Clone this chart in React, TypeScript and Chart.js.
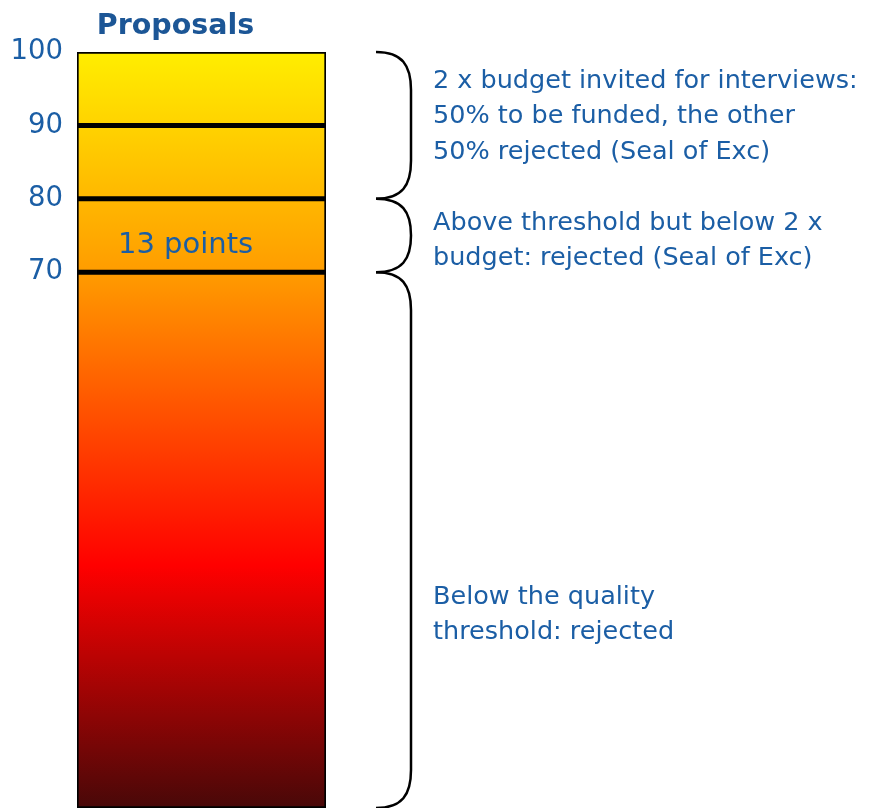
import React, { useEffect, useRef } from "react";
import { Chart, registerables } from "chart.js";

Chart.register(...registerables);

// ---- data ----
const categories = ["Proposals"];
const barTop = [100];
const barBottom = [-3];
const tickValues = [100, 90, 80, 70];
const thresholdValues = [90, 80, 70];
const gradientValues = [100, 70, 30, -3];
const gradientColors = ["#FFEE00", "#FF9C00", "#FF0000", "#480808"];
const bracketStarts = [100, 80, 70];
const bracketEnds = [80, 70, -3];
const annotationLines = [
  ["2 x budget invited for interviews:", "50% to be funded, the other", "50% rejected (Seal of Exc)"],
  ["Above threshold but below 2 x", "budget: rejected (Seal of Exc)"],
  ["Below the quality", "threshold: rejected"],
];
const annotationFirstLineValues = [96.0, 76.7, 25.7];
const insideLabel = "13 points";
const insideLabelValue = 73.6;

const BLUE = "#1B5EA5";
const FONT = "'DejaVu Sans', Verdana, sans-serif";

const overlayPlugin = {
  id: "overlay",
  afterDatasetsDraw(chart: any) {
    const { ctx, scales } = chart;
    const y = scales.y;
    const bar = chart.getDatasetMeta(0).data[0];
    const left = bar.x - bar.width / 2;
    const right = bar.x + bar.width / 2;
    ctx.save();
    ctx.strokeStyle = "#000";
    ctx.lineWidth = 5;
    thresholdValues.forEach((v) => {
      const py = y.getPixelForValue(v);
      ctx.beginPath();
      ctx.moveTo(left, py);
      ctx.lineTo(right, py);
      ctx.stroke();
    });
    ctx.fillStyle = BLUE;
    ctx.font = `29px ${FONT}`;
    ctx.textBaseline = "middle";
    ctx.textAlign = "left";
    ctx.fillText(insideLabel, left + 41, y.getPixelForValue(insideLabelValue));
    ctx.restore();
  },
  afterDraw(chart: any) {
    const { ctx, chartArea, scales } = chart;
    const y = scales.y;
    const x0 = chartArea.right + 50;
    const x1 = chartArea.right + 85;
    ctx.save();
    ctx.strokeStyle = "#000";
    ctx.lineWidth = 2.5;
    bracketStarts.forEach((s, i) => {
      const yt = y.getPixelForValue(s);
      const yb = y.getPixelForValue(bracketEnds[i]);
      const r = Math.min(38, (yb - yt) / 2);
      ctx.beginPath();
      ctx.moveTo(x0, yt);
      ctx.bezierCurveTo(x0 + (x1 - x0) * 0.75, yt, x1, yt + r * 0.35, x1, yt + r);
      ctx.lineTo(x1, yb - r);
      ctx.bezierCurveTo(x1, yb - r * 0.35, x0 + (x1 - x0) * 0.75, yb, x0, yb);
      ctx.stroke();
    });
    ctx.fillStyle = BLUE;
    ctx.font = `25.5px ${FONT}`;
    ctx.textBaseline = "middle";
    ctx.textAlign = "left";
    const tx = chartArea.right + 107;
    annotationLines.forEach((lines, i) => {
      const y0 = y.getPixelForValue(annotationFirstLineValues[i]);
      lines.forEach((t, j) => ctx.fillText(t, tx, y0 + j * 35.5));
    });
    ctx.restore();
  },
};

export default function App() {
  const ref = useRef<HTMLCanvasElement>(null);
  useEffect(() => {
    const chart = new Chart(ref.current!, {
      type: "bar",
      data: {
        labels: categories,
        datasets: [
          {
            data: categories.map((_, i) => [barBottom[i], barTop[i]]) as any,
            backgroundColor: (c: any) => {
              const { chart } = c;
              const { chartArea, scales } = chart;
              if (!chartArea) return "#FF9C00";
              const g = chart.ctx.createLinearGradient(0, chartArea.top, 0, chartArea.bottom);
              const h = chartArea.bottom - chartArea.top;
              gradientValues.forEach((v, i) => {
                const f = (scales.y.getPixelForValue(v) - chartArea.top) / h;
                g.addColorStop(Math.min(1, Math.max(0, f)), gradientColors[i]);
              });
              return g;
            },
            borderColor: "#000",
            borderWidth: 2,
            borderSkipped: false,
            barPercentage: 1,
            categoryPercentage: 1,
          },
        ],
      },
      options: {
        responsive: false,
        animation: false,
        layout: { padding: { left: 0, right: 559, top: 0, bottom: 0 } },
        plugins: { legend: { display: false }, tooltip: { enabled: false } },
        scales: {
          x: {
            position: "top",
            grid: { display: false, drawTicks: false },
            border: { display: false },
            ticks: {
              font: { family: FONT, size: 28.5, weight: "bold" },
              color: "#1C5696",
              padding: 8,
              labelOffset: -26,
            },
            afterFit(scale: any) {
              scale.height = 52;
              scale.paddingLeft = 0;
              scale.paddingRight = 0;
            },
          },
          y: {
            min: -3,
            max: 100,
            afterBuildTicks(scale: any) {
              scale.ticks = tickValues.map((v) => ({ value: v }));
            },
            grid: { display: false, drawTicks: false },
            border: { display: false },
            ticks: {
              font: { family: FONT, size: 27.5 },
              color: BLUE,
              padding: 14,
            },
            afterFit(scale: any) {
              scale.width = 77;
              scale.paddingTop = 0;
              scale.paddingBottom = 0;
            },
          },
        },
      },
      plugins: [overlayPlugin],
    });
    return () => chart.destroy();
  }, []);
  return (
    <div style={{ position: "fixed", left: 0, top: 0, width: 885, height: 808, background: "#fff" }}>
      <canvas ref={ref} width={885} height={808} />
    </div>
  );
}
